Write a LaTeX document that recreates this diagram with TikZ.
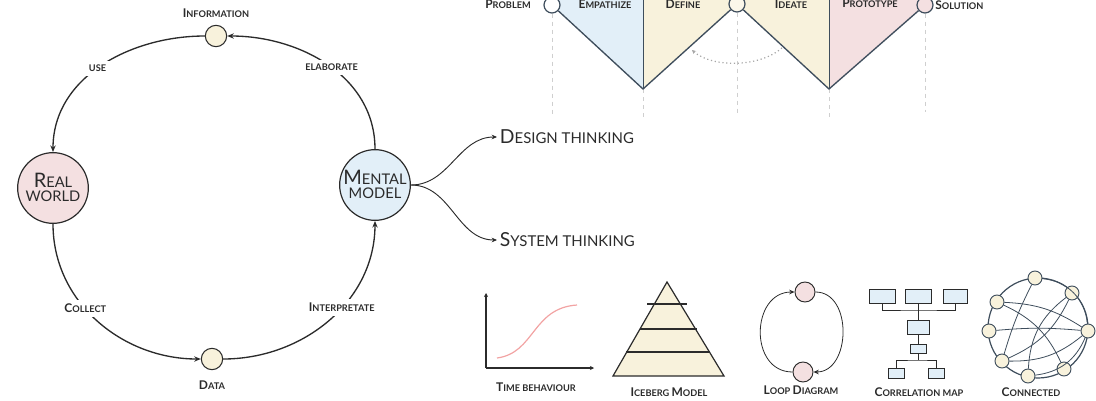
\documentclass[tikz,border=0pt]{standalone}
\usepackage{fontspec}
\setmainfont{Lato}
\usetikzlibrary{arrows.meta}
\definecolor{inkc}{HTML}{2B2B2B}
\definecolor{slatec}{HTML}{3E4D5C}
\definecolor{pinkc}{HTML}{F4E0E1}
\definecolor{bluec}{HTML}{E2EFF8}
\definecolor{creamc}{HTML}{F8F2DC}
\definecolor{grayc}{HTML}{CFCFCF}
\definecolor{redc}{HTML}{F2A3A3}
\newcommand{\lab}[2]{{\fontsize{9}{10}\selectfont #1}{\fontsize{6.9}{8}\selectfont #2}}
\newcommand{\lsm}[1]{{\fontsize{6.9}{8}\selectfont #1}}
\newcommand{\lbig}[2]{{\fontsize{14.5}{15}\selectfont #1}{\fontsize{11.2}{12}\selectfont #2}}
\newcommand{\lcirc}[2]{{\fontsize{15}{15}\selectfont #1}{\fontsize{11}{12}\selectfont #2}}
\begin{document}
\begin{tikzpicture}[x=0.75pt,y=-0.75pt,
  bigc/.style={circle, draw=inkc, line width=0.9pt, minimum size=53pt, inner sep=0pt, align=center, text=inkc},
  smallc/.style={circle, draw=inkc, line width=0.8pt, fill=creamc, minimum size=16pt, inner sep=0pt},
  lbl/.style={font=\bfseries, text=inkc, inner sep=1.5pt},
  lblw/.style={lbl, fill=white, inner sep=3pt},
  arr/.style={draw=inkc, line width=1pt, -{Stealth[length=5pt,width=4pt]}},
  thin arr/.style={draw=inkc, line width=0.7pt, -{Stealth[length=4pt,width=3.5pt]}},
  topline/.style={draw=slatec, line width=1pt},
  gdash/.style={draw=grayc, line width=0.6pt, dash pattern=on 3pt off 3pt},
  tcirc/.style={circle, draw=slatec, line width=0.9pt, minimum size=12pt, inner sep=0pt},
  cbox/.style={rectangle, draw=inkc, line width=0.6pt, fill=bluec, inner sep=0pt},
  cn/.style={circle, draw=slatec, line width=0.7pt, fill=creamc, minimum size=10.5pt, inner sep=0pt},
  cline/.style={draw=slatec, line width=0.6pt},
  lc/.style={circle, draw=inkc, line width=0.7pt, fill=pinkc, minimum size=15pt, inner sep=0pt},
  ctext/.style={text=inkc, inner sep=0pt, anchor=base}
]
\useasboundingbox (0,0) rectangle (1096,400);

% ---------- left loop ----------
\node[bigc, fill=pinkc] (rw) at (53,188) {};
\node[bigc, fill=bluec] (mm) at (375,185) {};
\node[ctext] (rw1) at (53,187) {\lcirc{R}{EAL}};
\node[ctext] (rw2) at (53,201) {\lcirc{}{WORLD}};
\node[ctext] (mm1) at (375,184) {\lcirc{M}{ENTAL}};
\node[ctext] (mm2) at (375,198) {\lcirc{}{MODEL}};
\node[smallc] (info) at (216,36) {};
\node[smallc] (data) at (212,359) {};
\node[lbl] (infol) at (216,13) {\lab{I}{NFORMATION}};
\node[lbl] (datal) at (212,385) {\lab{D}{ATA}};

\draw[arr] (info.west) to[out=180,in=90] node[lblw, pos=0.52] {\lsm{USE}} (rw.north);
\draw[arr] (mm.north) to[out=90,in=0] node[lblw, pos=0.48] {\lsm{ELABORATE}} (info.east);
\draw[arr] (rw.south) to[out=-90,in=180] node[lblw, pos=0.42] {\lab{C}{OLLECT}} (data.west);
\draw[arr] (data.east) to[out=0,in=-90] node[lblw, pos=0.58] {\lab{I}{NTERPRETATE}} (mm.south);

% ---------- branches ----------
\node[anchor=west, inner sep=2pt, text=inkc] (dt) at (497,137) {\lbig{D}{ESIGN THINKING}};
\node[anchor=west, inner sep=2pt, text=inkc] (st) at (497,240) {\lbig{S}{YSTEM THINKING}};
\draw[thin arr] (mm.east) to[out=0,in=180] (dt.west);
\draw[thin arr] (mm.east) to[out=0,in=180] (st.west);

% ---------- design thinking double diamond ----------
\coordinate (v1) at (643,89);
\coordinate (v2) at (829,89);
\fill[bluec] (552,4) -- (v1) -- (643,0) -- (552,0) -- cycle;
\fill[creamc] (643,0) -- (v1) -- (737,4) -- (v2) -- (829,0) -- cycle;
\fill[pinkc] (829,0) -- (v2) -- (925,5) -- (925,0) -- cycle;
\node[tcirc, fill=white] (p) at (552,5) {};
\node[tcirc, fill=creamc!60!white] (d) at (737,4) {};
\node[tcirc, fill=pinkc] (s) at (925,5) {};
\draw[gdash] (p.south) -- (552,116);
\draw[gdash] (v1) -- (643,118);
\draw[gdash] (d.south) -- (737,116);
\draw[gdash] (v2) -- (829,118);
\draw[gdash] (s.south) -- (925,112);
\draw[topline] (p) -- (v1) -- (d) -- (v2) -- (s);
\draw[draw=slatec, line width=0.7pt] (v1) -- (643,0);
\draw[draw=slatec, line width=0.7pt] (v2) -- (829,0);
\draw[draw=grayc!80!black, line width=0.9pt, dotted, {Stealth[length=3pt,width=3pt]}-] (692,50) .. controls (712,68) and (762,68) .. (784,46);
\node[lbl] at (508,4) {\lab{P}{ROBLEM}};
\node[lbl] at (605,4) {\lab{E}{MPATHIZE}};
\node[lbl] at (683,4) {\lab{D}{EFINE}};
\node[lbl] at (791,4) {\lab{I}{DEATE}};
\node[lbl] at (870,3) {\lab{P}{ROTOTYPE}};
\node[lbl, anchor=west] at (933,5) {\lab{S}{OLUTION}};

% ---------- time behaviour ----------
\coordinate (o) at (486,368);
\draw[draw=inkc, line width=0.8pt, -{Stealth[length=3pt,width=3pt]}] (o) -- (486,293);
\draw[draw=inkc, line width=0.8pt, -{Stealth[length=3pt,width=3pt]}] (o) -- (594,368);
\draw[redc, line width=0.9pt] (497,358) .. controls (535,353) and (532,308) .. (577,305);
\node[lbl] at (536,387) {\lab{T}{IME BEHAVIOUR}};

% ---------- iceberg ----------
\draw[draw=inkc, line width=0.9pt, fill=creamc] (667,282) -- (724,376) -- (613,376) -- cycle;
\draw[draw=inkc, line width=0.9pt] (647,304) -- (687,304);
\draw[draw=inkc, line width=0.9pt] (640,329) -- (697,329);
\draw[draw=inkc, line width=0.9pt] (626,352) -- (710,352);
\node[lbl] at (669,392) {\lab{I}{CEBERG }\lab{M}{ODEL}};

% ---------- loop diagram ----------
\node[lc] (lt) at (805,292) {};
\node[lc] (lb) at (803,372) {};
\draw[thin arr, line width=0.6pt] (lb.west) to[out=180,in=180,looseness=1.4] (lt.west);
\draw[thin arr, line width=0.6pt] (lt.east) to[out=0,in=0,looseness=1.2] (lb.east);
\node[lbl] at (801,390) {\lab{L}{OOP }\lab{D}{IAGRAM}};

% ---------- correlation map ----------
\node[cbox, minimum width=19pt, minimum height=10pt] (c1) at (882.5,296.5) {};
\node[cbox, minimum width=20pt, minimum height=10.5pt] (c2) at (918.5,296) {};
\node[cbox, minimum width=18pt, minimum height=10pt] (c3) at (955,296.5) {};
\node[cbox, minimum width=17pt, minimum height=11pt] (cm) at (918.5,327.5) {};
\node[cbox, minimum width=12.5pt, minimum height=6.5pt] (cs) at (918.5,349) {};
\node[cbox, minimum width=12.5pt, minimum height=7.5pt] (cb1) at (896.5,373) {};
\node[cbox, minimum width=12.5pt, minimum height=7.5pt] (cb2) at (936.5,373) {};
\coordinate (h1) at (918.5,310);
\coordinate (h2) at (918.5,360);
\draw[draw=inkc, line width=0.6pt] (c1.south) |- (h1) -| (c3.south);
\draw[draw=inkc, line width=0.6pt] (c2.south) -- (cm.north);
\draw[draw=inkc, line width=0.6pt] (cm.south) -- (cs.north);
\draw[draw=inkc, line width=0.6pt] (cs.south) -- (h2);
\draw[draw=inkc, line width=0.6pt] (cb1.north) |- (h2) -| (cb2.north);
\node[lbl] at (919,392) {\lab{C}{ORRELATION MAP}};

% ---------- connected ----------
\draw[cline, line width=0.9pt] (1038,328) circle[radius=37.5pt];
\node[cn] (k1) at (1035,278) {};
\node[cn] (k2) at (1072,293) {};
\node[cn] (k3) at (997,302) {};
\node[cn] (k4) at (989,331) {};
\node[cn] (k5) at (1088,331) {};
\node[cn] (k6) at (1002,361) {};
\node[cn] (k7) at (1028,376) {};
\node[cn] (k8) at (1064,369) {};
\draw[cline] (k1) to[bend right=5] (k6);
\draw[cline] (k1) to[bend left=40] (k5);
\draw[cline] (k3) to[bend left=15] (k5);
\draw[cline] (k4) to[bend left=5] (k5);
\draw[cline] (k6) to[bend right=20] (k5);
\draw[cline] (k7) to[bend right=30] (k5);
\draw[cline] (k2) to[bend right=25] (k7);
\draw[cline] (k3) to[bend left=20] (k8);
\draw[cline] (k2) to[bend left=20] (k6);
\node[lbl] at (1031,392) {\lab{C}{ONNECTED}};
\end{tikzpicture}
\end{document}
